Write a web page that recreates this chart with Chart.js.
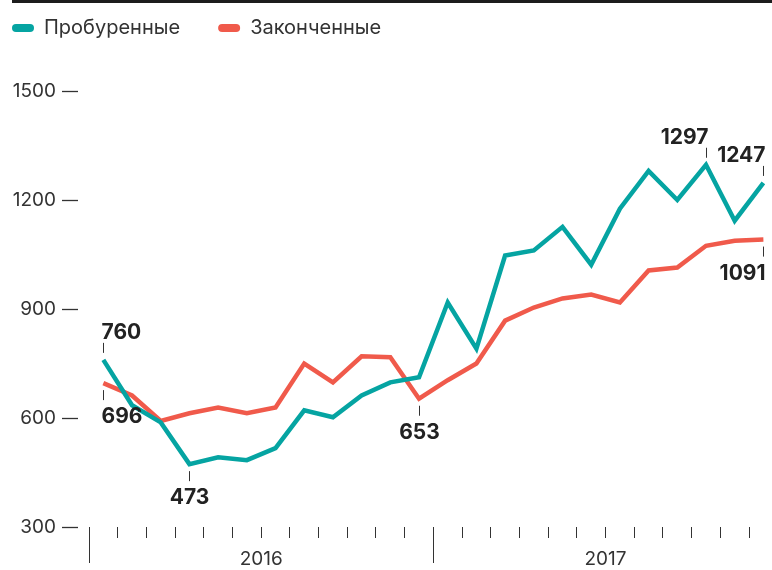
<!DOCTYPE html>
<html>
<head>
<meta charset="utf-8">
<script src="https://cdn.jsdelivr.net/npm/chart.js@4"></script>
<style>
    html, body { margin: 0; padding: 0; background: #fff; overflow: hidden; }
    #wrap { position: relative; width: 772px; height: 570px; }
    #rule { position: absolute; left: 12px; right: 0; top: 0; height: 3px; background: #1d1d1d; }
</style>
</head>
<body>
<div id="wrap">
    <div id="rule"></div>
    <canvas id="wellsChart" width="772" height="570"></canvas>
</div>
<script>
const months = [
    "2016-01", "2016-02", "2016-03", "2016-04", "2016-05", "2016-06",
    "2016-07", "2016-08", "2016-09", "2016-10", "2016-11", "2016-12",
    "2017-01", "2017-02", "2017-03", "2017-04", "2017-05", "2017-06",
    "2017-07", "2017-08", "2017-09", "2017-10", "2017-11", "2017-12"
];
const drilled = [760, 635, 588, 473, 492, 484, 517, 621, 602, 662, 698, 712,
                 918, 791, 1047, 1061, 1126, 1022, 1176, 1280, 1200, 1297, 1143, 1247];
const completed = [696, 662, 592, 613, 629, 613, 629, 750, 698, 770, 767, 653,
                   704, 750, 868, 904, 929, 940, 918, 1006, 1014, 1074, 1088, 1091];
const yTicks = [300, 600, 900, 1200, 1500];
const years = ["2016", "2017"];

const series = { drilled: drilled, completed: completed };

// подписи значений: какой ряд, какой месяц, сверху/снизу, выравнивание
const callouts = [
    { s: "drilled", i: 0, side: "up", align: "left" },
    { s: "completed", i: 0, side: "down", align: "left" },
    { s: "drilled", i: 3, side: "down", align: "center" },
    { s: "completed", i: 11, side: "down", align: "center" },
    { s: "drilled", i: 21, side: "up", align: "right" },
    { s: "drilled", i: 23, side: "up", align: "right" },
    { s: "completed", i: 23, side: "down", align: "right" }
];

const LEGEND_PAD = 38;

const calloutPlugin = {
    id: "callouts",
    afterDatasetsDraw(chart) {
        const ctx = chart.ctx;
        const x = chart.scales.x, y = chart.scales.y;
        ctx.save();
        ctx.font = "bold 21px Inter";
        ctx.fillStyle = "#222";
        ctx.strokeStyle = "#333";
        ctx.lineWidth = 1;
        ctx.textBaseline = "alphabetic";
        callouts.forEach(function (c) {
            const v = series[c.s][c.i];
            const px = Math.round(x.getPixelForValue(c.i)) + 0.5;
            const py = y.getPixelForValue(v);
            const dir = c.side === "up" ? -1 : 1;
            ctx.beginPath();
            ctx.moveTo(px, py + dir * 7);
            ctx.lineTo(px, py + dir * 17);
            ctx.stroke();
            ctx.textAlign = c.align;
            let tx = px;
            if (c.align === "left") tx = px - 2;
            if (c.align === "right") tx = px + 2;
            ctx.fillText(String(v), tx, c.side === "up" ? py - 21 : py + 40);
        });
        ctx.restore();
    }
};

// легенда: сдвигаем к левому краю и вверх
const legendShift = {
    id: "legendShift",
    afterLayout(chart) {
        chart.legend.left = 12 - LEGEND_PAD;
        chart.legend.top = 28 - LEGEND_PAD - 10;
    }
};

new Chart(document.getElementById("wellsChart").getContext("2d"), {
    type: "line",
    data: {
        datasets: [
            {
                label: "Пробуренные",
                data: drilled.map((v, i) => ({ x: i, y: v })),
                borderColor: "#05a4a2",
                backgroundColor: "#05a4a2",
                borderWidth: 4.5,
                pointRadius: 0,
                tension: 0,
            },
            {
                label: "Законченные",
                data: completed.map((v, i) => ({ x: i, y: v })),
                borderColor: "#f05a4b",
                backgroundColor: "#f05a4b",
                borderWidth: 4.5,
                pointRadius: 0,
                tension: 0,
            },
        ],
    },
    options: {
        responsive: false,
        animation: false,
        layout: { padding: { top: 23, left: 0, right: 0, bottom: 0 } },
        plugins: {
            tooltip: { enabled: false },
            legend: {
                position: "top",
                align: "start",
                labels: {
                    font: { family: "Inter", size: 20 },
                    color: "#333",
                    boxWidth: 22,
                    boxHeight: 8,
                    useBorderRadius: true,
                    borderRadius: 4,
                    padding: LEGEND_PAD,
                    generateLabels: (chart) =>
                        Chart.defaults.plugins.legend.labels.generateLabels(chart)
                            .map((l) => Object.assign(l, { lineWidth: 0 })),
                },
            },
        },
        scales: {
            x: {
                type: "linear",
                min: -0.5,
                max: 23.3,
                border: { display: false },
                afterBuildTicks: (s) => {
                    s.ticks = months.map((m, i) => ({ value: i - 0.5 }));
                },
                afterFit: (s) => { s.height = 43; },
                grid: {
                    drawOnChartArea: false,
                    tickLength: 36,
                    tickColor: "#333",
                    tickWidth: 1,
                    tickBorderDash: (ctx) =>
                        (ctx.tick && (ctx.tick.value === -0.5 || ctx.tick.value === 11.5)) ? [] : [11, 100],
                },
                ticks: {
                    autoSkip: false,
                    maxRotation: 0,
                    padding: -15,
                    font: { family: "Inter", size: 19 },
                    color: "#333",
                    callback: (v) => {
                        if (Math.abs(v - 5.5) < 0.01) return years[0];
                        if (Math.abs(v - 17.5) < 0.01) return years[1];
                        return "";
                    },
                },
            },
            y: {
                min: 300,
                max: 1500,
                afterBuildTicks: (s) => {
                    s.ticks = yTicks.map((v) => ({ value: v }));
                },
                afterFit: (s) => { s.width = 89; },
                border: { display: false },
                grid: {
                    drawOnChartArea: false,
                    tickLength: 27,
                    tickBorderDash: [16, 40],
                    tickColor: "#333",
                    tickWidth: 1.3,
                },
                ticks: {
                    padding: 6,
                    font: { family: "Inter", size: 19 },
                    color: "#333",
                    callback: (v) => String(v),
                },
            },
        },
    },
    plugins: [calloutPlugin, legendShift],
});
</script>
</body>
</html>
